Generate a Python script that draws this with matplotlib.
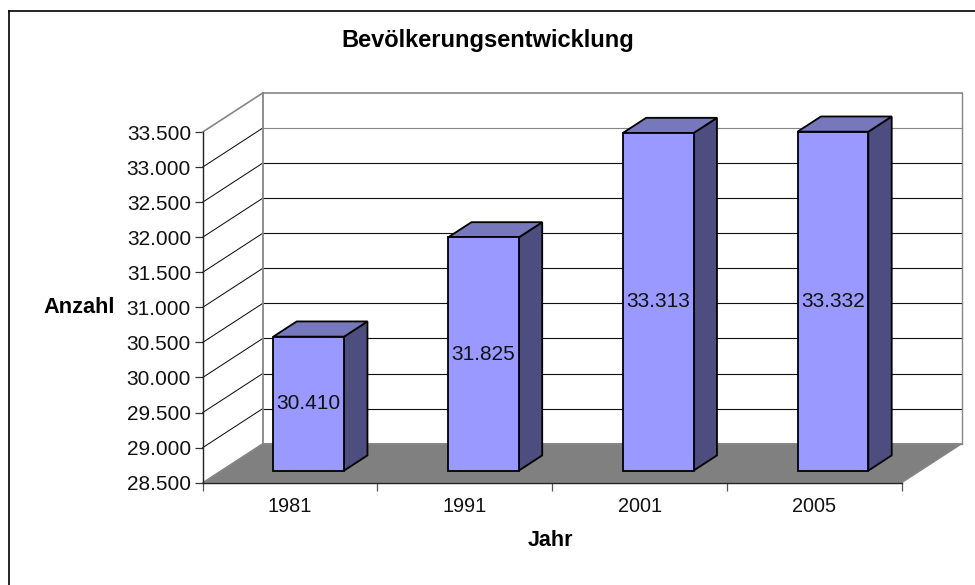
import matplotlib
matplotlib.use("Agg")
import matplotlib.pyplot as plt
from matplotlib.lines import Line2D
from matplotlib.patches import Polygon

years = ["1981", "1991", "2001", "2005"]
values = [30410, 31825, 33313, 33332]
value_labels = ["30.410", "31.825", "33.313", "33.332"]
y_ticks = [28500, 29000, 29500, 30000, 30500, 31000, 31500, 32000, 32500, 33000, 33500]
y_tick_labels = ["28.500", "29.000", "29.500", "30.000", "30.500", "31.000",
                 "31.500", "32.000", "32.500", "33.000", "33.500"]

W, H = 975, 585
plt.rcParams["font.family"] = ["Liberation Sans", "DejaVu Sans"]
fig = plt.figure(figsize=(W / 100, H / 100), dpi=100)

# front plane of the fake 3d box, in pixels of the picture
left, right, top, bottom = 202.7, 901.7, 132, 482.7
ax = fig.add_axes([left / W, 1 - bottom / H, (right - left) / W, (bottom - top) / H])
ax.set_xlim(0, len(years))
ax.set_ylim(y_ticks[0], y_ticks[-1])
ax.patch.set_visible(False)
for s in ax.spines.values():
    s.set_visible(False)

# depth goes right and up: sizes of one full depth in data units
sx = len(years) / (right - left)
sy = (y_ticks[-1] - y_ticks[0]) / (bottom - top)
depth_x = 60 * sx
depth_y = 39 * sy


def pt(x, y, d):
    return (x + d * depth_x, y + d * depth_y)


def poly(points, **kw):
    ax.add_patch(Polygon(points, closed=True, clip_on=False, **kw))


n = len(years)
y0, y1 = y_ticks[0], y_ticks[-1]
GREY = "#868686"

# floor
poly([pt(0, y0, 0), pt(n, y0, 0), pt(n, y0, 1), pt(0, y0, 1)], fc="#808080", ec=GREY, lw=1.0, zorder=1)

# gridlines on side wall and back wall
for t in y_ticks:
    col = GREY if t == y1 else "#111111"
    backcol = GREY if t in (y0, 33000, y1) else "#111111"
    if t != y0:
        ax.plot(*zip(pt(0, t, 0), pt(0, t, 1)), color=col, lw=1.2 if t == y1 else 0.75, clip_on=False, zorder=2)
    ax.plot(*zip(pt(0, t, 1), pt(n, t, 1)), color=backcol, lw=1.2 if t == y1 else 0.8, clip_on=False, zorder=2)
ax.plot(*zip(pt(0, y0, 1), pt(0, y1, 1)), color=GREY, lw=1.3, clip_on=False, zorder=2)
ax.plot(*zip(pt(n, y0, 1), pt(n, y1, 1)), color=GREY, lw=1.0, clip_on=False, zorder=2)

# bars
d_front, d_back = 0.31, 0.70
bar_w = 0.405
for i, v in enumerate(values):
    x0 = i + 0.5 - bar_w / 2
    x1 = i + 0.5 + bar_w / 2
    poly([pt(x1, y0, d_front), pt(x1, y0, d_back), pt(x1, v, d_back), pt(x1, v, d_front)],
         fc="#4d4d80", ec="black", lw=1.3, zorder=3)
    poly([pt(x0, v, d_front), pt(x1, v, d_front), pt(x1, v, d_back), pt(x0, v, d_back)],
         fc="#7777bb", ec="black", lw=1.3, zorder=3)
    poly([pt(x0, y0, d_front), pt(x1, y0, d_front), pt(x1, v, d_front), pt(x0, v, d_front)],
         fc="#9999ff", ec="black", lw=1.3, zorder=4)
    cx, cy = pt(i + 0.5, (y0 + v) / 2, d_front)
    ax.text(cx, cy, value_labels[i], ha="center", va="center", fontsize=15, color="#111111", zorder=5)

# axes lines
ax.plot([0, 0], [y0, y1], color="#222222", lw=1.0, clip_on=False, zorder=5)
ax.plot([0, n], [y0, y0], color="#222222", lw=1.0, clip_on=False, zorder=5)

ax.set_yticks(y_ticks)
ax.set_yticklabels(y_tick_labels, fontsize=15, color="#111111")
ax.set_xticks(range(n + 1))
ax.set_xticklabels([])
ax.set_xticks([i + 0.5 for i in range(n)], minor=True)
ax.set_xticklabels(years, minor=True, fontsize=14.3, color="#111111")
ax.tick_params(axis="y", length=5.5, width=0.9, pad=3, color="#333333")
ax.tick_params(axis="x", which="major", length=5.8, width=0.9, color="#555555")
ax.tick_params(axis="x", which="minor", length=0, pad=10)

fig.text(79 / W, 1 - 307.5 / H, "Anzahl", fontsize=15.7, fontweight="bold", ha="center", va="center")
fig.text(550 / W, 1 - 541 / H, "Jahr", fontsize=15.5, fontweight="bold", ha="center", va="center")
fig.text(487.5 / W, 1 - 41 / H, "Bevölkerungsentwicklung", fontsize=17, fontweight="bold", ha="center", va="center")

# chart border, only top and left fall inside the picture
bx, by = 8.5 / W, 1 - 10.5 / H
fig.add_artist(Line2D([bx, bx], [0, by], transform=fig.transFigure, color="black", lw=1.2))
fig.add_artist(Line2D([bx, 1], [by, by], transform=fig.transFigure, color="black", lw=1.2))

fig.savefig("out.png", dpi=100)
